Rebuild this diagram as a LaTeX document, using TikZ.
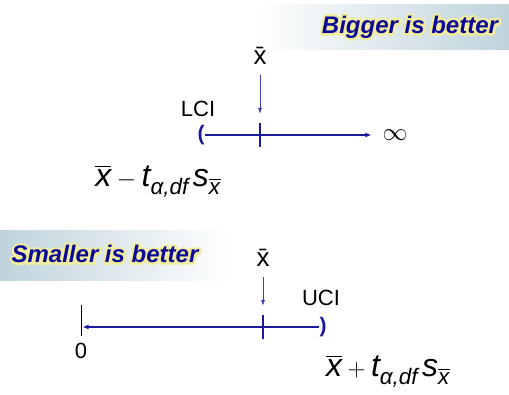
\documentclass[tikz,border=0pt]{standalone}
\usepackage{amsmath}
\usepackage{fontspec}
\setmainfont{Liberation Sans}
\usetikzlibrary{arrows.meta,calc}
\definecolor{lineC}{HTML}{1A1A9C}
\definecolor{pointC}{HTML}{3C3CB4}
\definecolor{titleC}{HTML}{0A0A96}
\definecolor{glowC}{HTML}{F2EE9A}
\definecolor{bandC}{HTML}{BFD3DC}
\tikzset{
  axis/.style={-{Latex[length=6pt,width=5pt]}, draw=lineC, line width=1.2pt},
  tick/.style={draw=lineC, line width=2pt},
  pointer/.style={-{Latex[length=6pt,width=4pt]}, draw=pointC, line width=0.9pt},
  lab/.style={font=\fontsize{22}{24}\selectfont, inner sep=0pt},
  mark lab/.style={font=\fontsize{26}{28}\selectfont, inner sep=0pt},
  bound/.style={font=\fontsize{21}{23}\selectfont\bfseries, text=lineC, inner sep=0pt},
  formula/.style={font=\fontsize{32}{34}\selectfont, inner sep=0pt},
  title/.style={font=\fontsize{24}{26}\selectfont\bfseries\itshape, text=titleC, inner sep=0pt},
}
% stroked copy of a title, drawn under it as a yellow halo
\newcommand\halo[1]{\special{pdf:literal direct 1 j 5 w 0.95 0.93 0.62 RG 2 Tr}#1\special{pdf:literal direct 0 Tr}}
\newcommand\lowerci{$\overline{\textit{x}}-\textit{t}_{\textit{α,df}}\,\textit{s}_{\overline{\textit{x}}}$}
\newcommand\upperci{$\overline{\textit{x}}+\textit{t}_{\textit{α,df}}\,\textit{s}_{\overline{\textit{x}}}$}

\begin{document}
\begin{tikzpicture}[x=1pt,y=-1pt]
\useasboundingbox (0,0) rectangle (509,395);
\fill[white] (0,0) rectangle (509,395);
% banners
\shade[left color=white, right color=bandC] (255,5) rectangle (509,50);
\shade[left color=bandC, right color=white] (0,231) rectangle (230,281);
\node[title, text=glowC] at (410,27) {\halo{Bigger is better}};
\node[title, text=glowC] at (105,254) {\halo{Smaller is better}};
\node[title] (bigger) at (410,27) {Bigger is better};
\node[title] (smaller) at (105,254) {Smaller is better};

% lower bound
\coordinate (mean1) at (260,135);
\node[bound] (lo) at (201,135) {(};
\node[lab, font=\fontsize{24}{26}\selectfont] (inf) at (395,135) {$\infty$};
\node[lab] (lci) at (198,109) {LCI};
\node[mark lab] (xbar1) at (260,56) {\={x}};
\node[formula] (lower) at (158,181) {\lowerci};
\draw[axis, shorten >=11pt] (lo.east) -- (inf.west);
\draw[tick] ($(mean1)+(0,-12)$) -- ($(mean1)+(0,12)$);
\draw[pointer, shorten <=10pt, shorten >=21pt] (xbar1.south) -- (mean1);

% upper bound
\coordinate (zero) at (81,327);
\coordinate (mean2) at (263,327);
\node[bound] (hi) at (323,327) {)};
\node[lab] (nil) at (81,351) {0};
\node[lab] (uci) at (321,298) {UCI};
\node[mark lab] (xbar2) at (263,258) {\={x}};
\node[formula] (upper) at (388,371) {\upperci};
\draw[line width=1pt] ($(zero)+(0,-22)$) -- ($(zero)+(0,9)$);
\draw[axis, shorten >=1.5pt] (hi.west) -- (zero);
\draw[tick] ($(mean2)+(0,-12)$) -- ($(mean2)+(0,12)$);
\draw[pointer, shorten <=10pt, shorten >=21pt] (xbar2.south) -- (mean2);
\end{tikzpicture}
\end{document}
